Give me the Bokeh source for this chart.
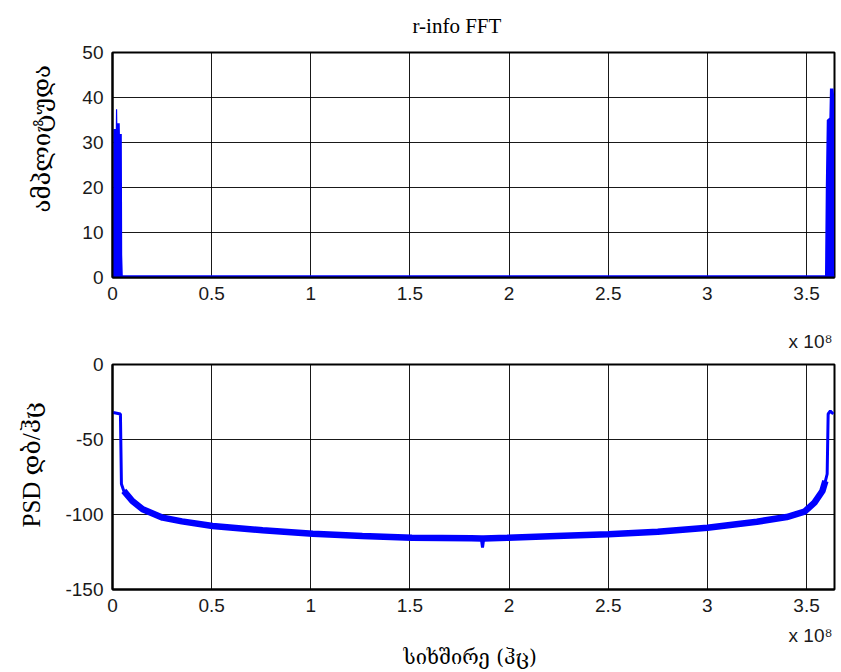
from bokeh.plotting import figure
from bokeh.layouts import column
from bokeh.models import Range1d, FixedTicker, Title, NumeralTickFormatter
from bokeh.embed import file_html
from bokeh.resources import INLINE

# ---------------- data (frequency in units of 1e8 Hz) ----------------
x_ticks = [0, 0.5, 1, 1.5, 2, 2.5, 3, 3.5]
amp_ticks = [0, 10, 20, 30, 40, 50]
psd_ticks = [-150, -100, -50, 0]
x_max = 3.641

# amplitude spectrum: baseline and the two edge lobes (upper envelope)
amp_base_f = [0.0, 3.641]
amp_base_a = [0.25, 0.25]
amp_left_f = [0.002, 0.004, 0.0165, 0.0175, 0.0235, 0.0245, 0.0365, 0.0375, 0.047, 0.049, 0.052]
amp_left_a = [0.3, 33.0, 33.0, 37.4, 37.4, 34.3, 34.3, 31.9, 31.9, 5.0, 0.3]
amp_right_f = [3.593, 3.597, 3.602, 3.615, 3.618, 3.636, 3.640]
amp_right_a = [0.3, 20.0, 35.0, 35.5, 42.0, 42.0, 40.0]

# power spectral density (dB/Hz)
psd_f = [0.0035, 0.040, 0.045, 0.057, 0.10, 0.152, 0.253, 0.35, 0.505, 0.757, 1.01,
         1.26, 1.51, 1.81, 1.86, 1.866, 1.872, 1.99, 2.24, 2.50, 2.75, 3.0, 3.25,
         3.40, 3.49, 3.54, 3.58, 3.595, 3.604, 3.609, 3.62, 3.635]
psd_db = [-32.0, -33.0, -79.7, -84.3, -91.0, -96.5, -102.1, -104.6, -107.7, -110.5, -112.8,
          -114.3, -115.5, -115.9, -116.0, -122.0, -116.0, -115.5, -114.3, -113.2, -111.5, -108.8, -104.8,
          -101.7, -98.1, -92.1, -84.3, -77.7, -73.0, -33.0, -31.0, -33.0]

BLUE = "#0000ff"
SERIF = "'Liberation Serif', 'DejaVu Serif'"
GEO = "'DejaVu Serif'"
SANS = "'Liberation Sans', 'DejaVu Sans'"


def make_fig(height, border_top, border_bottom, y_start, y_end, yticks):
    p = figure(width=840, height=height, output_backend="svg", toolbar_location=None,
               x_range=Range1d(0, x_max), y_range=Range1d(y_start, y_end),
               min_border_left=112, min_border_right=6,
               min_border_top=border_top, min_border_bottom=border_bottom)
    p.xaxis.ticker = FixedTicker(ticks=x_ticks)
    p.yaxis.ticker = FixedTicker(ticks=yticks)
    p.xaxis.formatter = NumeralTickFormatter(format="0.[0]")
    p.yaxis.formatter = NumeralTickFormatter(format="0")
    p.grid.grid_line_color = "black"
    p.grid.grid_line_width = 1
    p.grid.grid_line_alpha = 0.9
    p.outline_line_color = "black"
    p.outline_line_width = 2
    p.outline_line_alpha = 1
    p.axis.axis_line_color = "black"
    p.axis.axis_line_width = 2
    p.axis.major_tick_line_color = None
    p.axis.minor_tick_line_color = None
    p.axis.major_label_text_font = SANS
    p.axis.major_label_text_font_size = "19px"
    p.axis.major_label_text_color = "#1a1a1a"
    p.axis.major_label_standoff = 3
    p.background_fill_color = "white"
    p.border_fill_color = "white"
    return p


def x10_title(standoff):
    return Title(text="x 10\u2078", align="right", offset=2, standoff=standoff,
                 vertical_align="bottom",
                 text_font=SANS, text_font_size="19px", text_font_style="normal",
                 text_color="#1a1a1a")


# ---------------- top: amplitude ----------------
p1 = make_fig(314, 52, 37, 0, 50, amp_ticks)
p1.title = Title(text="r-info FFT", align="left", offset=300, standoff=25,
                 vertical_align="top",
                 text_font=SERIF, text_font_size="21px", text_font_style="normal",
                 text_color="black")
p1.add_layout(Title(text="ამპლიტუდა", align="left", offset=65, standoff=44,
                    vertical_align="top",
                    text_font=GEO, text_font_size="24px", text_font_style="normal",
                    text_color="black"), "left")

p1.varea(x=amp_left_f, y1=0, y2=amp_left_a, fill_color=BLUE)
p1.varea(x=amp_right_f, y1=0, y2=amp_right_a, fill_color=BLUE)
p1.line(amp_base_f, amp_base_a, line_color=BLUE, line_width=2.5)

# ---------------- bottom: PSD ----------------
p2 = make_fig(358, 50, 83, -150, 0, psd_ticks)
p2.add_layout(x10_title(25), "above")   # exponent belonging to the upper panel's x axis
p2.add_layout(Title(text="PSD  დბ/ჰც", align="left", offset=62, standoff=32,
                    vertical_align="top",
                    text_font=SERIF, text_font_size="25px", text_font_style="normal",
                    text_color="black"), "left")

p2.line(psd_f, psd_db, line_color=BLUE, line_width=3)
thick = [i for i in range(3, 28) if i != 15]
p2.line([psd_f[i] for i in thick], [psd_db[i] for i in thick], line_color=BLUE, line_width=6.5)

p2.add_layout(x10_title(17), "below")
p2.add_layout(Title(text="სიხშირე (ჰც)", align="left", offset=291, standoff=-20,
                    vertical_align="top",
                    text_font=GEO, text_font_size="20px", text_font_style="normal",
                    text_color="black"), "below")

layout = column(p1, p2, spacing=0)
open("out.html", "w").write(file_html(layout, INLINE))
